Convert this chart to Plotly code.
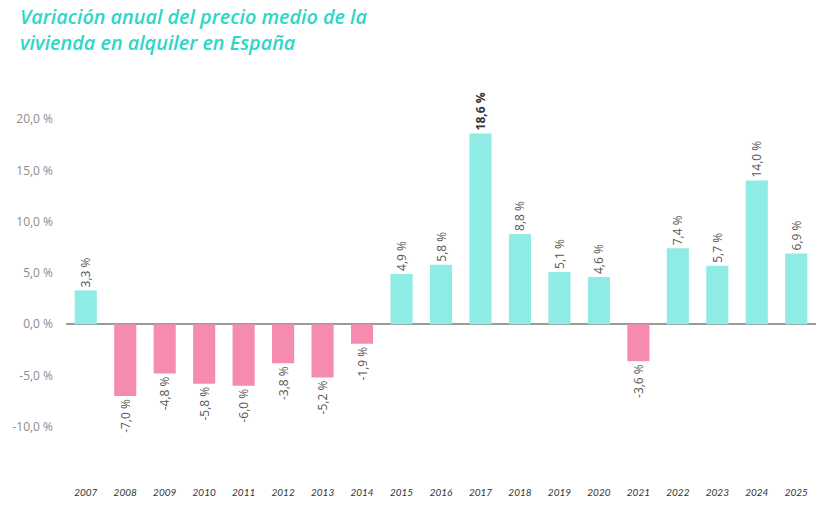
import plotly.graph_objects as go

years = ["2007", "2008", "2009", "2010", "2011", "2012", "2013", "2014", "2015", "2016",
         "2017", "2018", "2019", "2020", "2021", "2022", "2023", "2024", "2025"]
values = [3.3, -7.0, -4.8, -5.8, -6.0, -3.8, -5.2, -1.9, 4.9, 5.8,
          18.6, 8.8, 5.1, 4.6, -3.6, 7.4, 5.7, 14.0, 6.9]
ytick_vals = [-10, -5, 0, 5, 10, 15, 20]
ytick_text = ["-10,0 %", "-5,0 %", "0,0 %", "5,0 %", "10,0 %", "15,0 %", "20,0 %"]
title_text = "Variación anual del precio medio de la<br>vivienda en alquiler en España"

POS = "#8EECE5"
NEG = "#F58BAF"

max_v = max(values)
labels = []
label_colors = []
for v in values:
    s = f"{v:.1f}".replace(".", ",") + " %"
    if v == max_v:
        s = "<b>" + s + "</b>"
        label_colors.append("#333333")
    else:
        label_colors.append("#555555")
    labels.append(s)

fig = go.Figure(go.Bar(
    x=years, y=values,
    marker=dict(color=[POS if v >= 0 else NEG for v in values], line=dict(width=0)),
    width=0.56,
    text=labels,
    textposition="outside",
    textangle=-90,
    constraintext="none",
    textfont=dict(family="Open Sans", size=12, color=label_colors),
    cliponaxis=False,
    hoverinfo="skip",
))

fig.add_annotation(
    text=title_text, xref="paper", yref="paper",
    x=-0.064, y=1.195, xanchor="left", yanchor="top", align="left",
    showarrow=False,
    font=dict(family="Open Sans", size=19.8, color="#2ED6C6", style="italic", weight=600),
)

fig.update_layout(
    width=828, height=508,
    margin=dict(l=58, r=20, t=70, b=43, autoexpand=False),
    plot_bgcolor="white", paper_bgcolor="white",
    showlegend=False,
    xaxis=dict(
        type="category", range=[-0.5, 18.5], automargin=False,
        showgrid=False, zeroline=False, showline=False, ticks="",
        tickfont=dict(family="Lato", size=10, color="#333333", style="italic"),
        ticklabelstandoff=12,
    ),
    yaxis=dict(
        range=[-14.5, 24], tickvals=ytick_vals, ticktext=ytick_text, automargin=False,
        showgrid=False, showline=False, ticks="",
        zeroline=True, zerolinecolor="#9A9A9A", zerolinewidth=2,
        tickfont=dict(family="Open Sans", size=12, color="#8C8C8C"),
        ticklabelstandoff=12,
    ),
)

fig.write_html("out.html")
